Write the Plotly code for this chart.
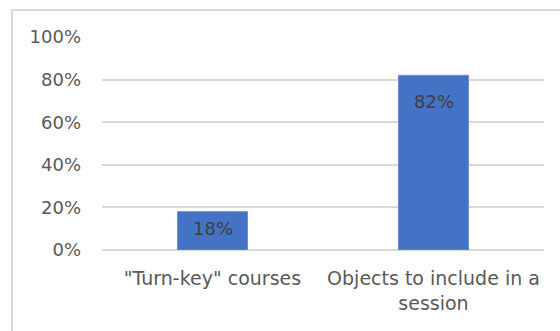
import plotly.graph_objects as go

categories = ['"Turn-key" courses', "Objects to include in a<br>session"]
shares = [0.18, 0.82]
tick_values = [0, 0.2, 0.4, 0.6, 0.8, 1.0]
tick_labels = ["0%", "20%", "40%", "60%", "80%", "100%"]

W, H = 560, 331
L, R, T, B = 102, 16, 37, 81
pw, ph = W - L - R, H - T - B

FONT = "DejaVu Sans"

fig = go.Figure(
    go.Bar(
        x=categories,
        y=shares,
        marker=dict(color="#4472C4", line=dict(color="#6a8fd4", width=1)),
        cliponaxis=False,
        width=0.317,
    )
)

# value labels just inside the top of each bar (short bars keep theirs nearer the top)
label_drop = [-17, -26]
for cat, val, dy in zip(categories, shares, label_drop):
    fig.add_annotation(
        x=cat,
        y=val,
        text=f"{round(val * 100)}%",
        showarrow=False,
        yanchor="middle",
        yshift=dy,
        font=dict(family=FONT, size=18, color="#404040"),
    )

fig.update_layout(
    width=W,
    height=H,
    autosize=False,
    margin=dict(l=L, r=R, t=T, b=B),
    paper_bgcolor="white",
    plot_bgcolor="white",
    showlegend=False,
    font=dict(family=FONT, size=18, color="#595959"),
    xaxis=dict(
        showgrid=False,
        showline=False,
        zeroline=False,
        ticks="",
        tickfont=dict(size=19),
        ticklabelstandoff=15,
    ),
    yaxis=dict(
        range=[0, 1.0],
        tickvals=tick_values,
        ticktext=tick_labels,
        showgrid=True,
        gridcolor="#d9d9d9",
        gridwidth=1.5,
        zeroline=True,
        zerolinecolor="#d9d9d9",
        zerolinewidth=1.5,
        showline=False,
        ticks="",
        ticklabelstandoff=20,
    ),
    shapes=[
        # light frame around the chart; right and bottom edges run off the page
        dict(
            type="rect",
            xref="paper",
            yref="paper",
            x0=(12 - L) / pw,
            x1=(W + 40 - L) / pw,
            y0=-(B + 40) / ph,
            y1=1 + (T - 10) / ph,
            line=dict(color="#d9d9d9", width=2),
            fillcolor="rgba(0,0,0,0)",
            layer="below",
        )
    ],
)

fig.write_html("out.html")
